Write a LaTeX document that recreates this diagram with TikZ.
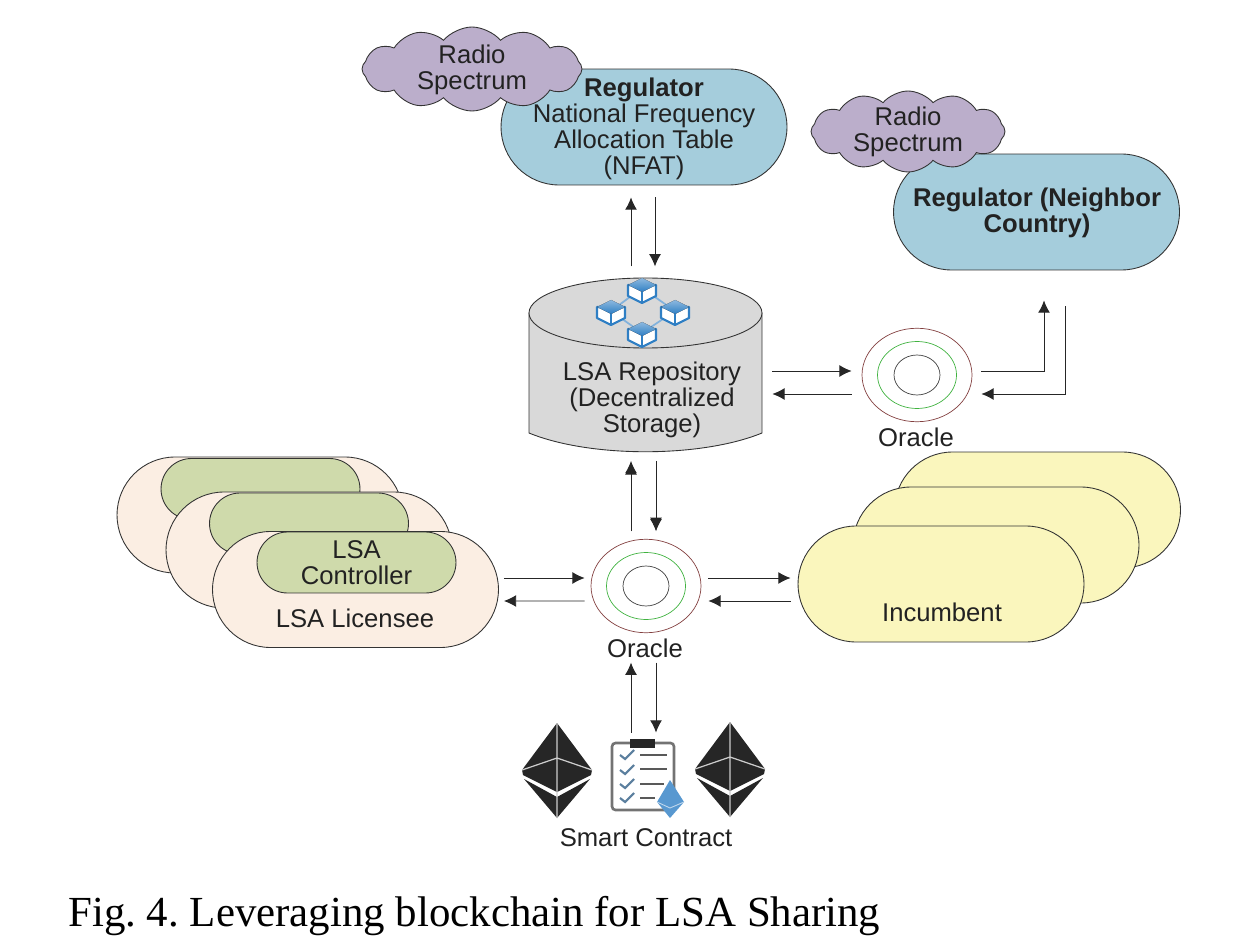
\documentclass[tikz,border=0pt]{standalone}
\usepackage{fontspec}
\setmainfont{Liberation Sans}
\newfontfamily\captionserif{Liberation Serif}
\usetikzlibrary{arrows.meta,shapes.misc,shapes.symbols,shapes.geometric}
\definecolor{regblue}{HTML}{A5CDDC}
\definecolor{cloudlila}{HTML}{BBAECB}
\definecolor{repogray}{HTML}{D9D9D9}
\definecolor{licpeach}{HTML}{FBEEE3}
\definecolor{ctrlgreen}{HTML}{CFDAAB}
\definecolor{incyellow}{HTML}{FAF6BD}
\definecolor{inktext}{HTML}{222222}
\definecolor{ethdark}{HTML}{262626}
\definecolor{cubeblue}{HTML}{2F7FC4}
\tikzset{
  pill/.style={rounded rectangle,draw=black!80,line width=0.5pt,inner sep=0pt,
    minimum width=5.72cm,minimum height=2.32cm,text=inktext,align=center,
    font=\fontsize{14.6}{14.8}\selectfont},
  ctrl/.style={pill,fill=ctrlgreen,minimum width=3.98cm,minimum height=1.22cm},
  radiocloud/.style={cloud,cloud puffs=12,cloud puff arc=100,cloud ignores aspect,draw=black!80,line width=0.5pt,
    fill=cloudlila,inner sep=0pt},
  tlabel/.style={text=inktext,align=center,inner sep=0pt,
    font=\fontsize{14.6}{14.8}\selectfont},
  ring/.style={ellipse,inner sep=0pt,line width=0.4pt},
  link/.style={-{Latex[length=7pt,width=6.8pt]},line width=0.55pt,color=black!85},
  cubepic/.pic={
    \draw[cubeblue,fill=white,line width=1.2pt,line join=round] (-14,-5) -- (-14,6) -- (0,13) -- (14,6) -- (14,-5) -- cycle;
    \draw[cubeblue,line width=0.7pt] (0,2) -- (0,13);
    \fill[top color=cubeblue!55,bottom color=cubeblue] (0,-12) -- (14,-5) -- (0,2) -- (-14,-5) -- cycle;
  },
  ethpic/.pic={
    \fill[ethdark] (0,-47) -- (35,0) -- (34,5) -- (0,22) -- (-34,5) -- (-35,0) -- cycle;
    \fill[ethdark] (-33,9) -- (0,27) -- (33,9) -- (0,48) -- cycle;
    \draw[white!80!black,line width=0.7pt] (0,-47) -- (0,48) (-35,0) -- (0,-12) -- (35,0);
  }
}
\begin{document}
\begin{tikzpicture}[x=0.02cm,y=-0.02cm]
  \useasboundingbox (0,0) rectangle (1250,952);
  % Regulatoren
  \node[pill,fill=regblue] (regulator) at (644,127) {};
  \node[tlabel] (regtext) at (644,129) {\textbf{Regulator}\\National Frequency\\Allocation Table\\(NFAT)};
  \node[pill,fill=regblue] (neighbor) at (1036.5,212) {};
  \node[tlabel] (neighbortext) at (1037,213) {\textbf{Regulator (Neighbor}\\\textbf{Country)}};
  \node[radiocloud,minimum width=4.4cm,minimum height=1.68cm] (cloudA) at (472,69) {};
  \node[tlabel] (cloudAtext) at (472,70) {Radio\\Spectrum};
  \node[radiocloud,minimum width=3.88cm,minimum height=1.62cm] (cloudB) at (908,131.5) {};
  \node[tlabel] (cloudBtext) at (908,132) {Radio\\Spectrum};
  % Repository
  \node[minimum width=4.66cm,minimum height=3.48cm,inner sep=0pt] (repo) at (645.5,365) {};
  \draw[fill=repogray,draw=black!80,line width=0.5pt] (529,313) -- (529,433) .. controls (590,458) and (701,458) .. (762,433) -- (762,313) -- cycle;
  \draw[fill=repogray,draw=black!80,line width=0.5pt] (645.5,313) ellipse [x radius=116.5,y radius=35];
  \node[tlabel] (repotext) at (652,400) {LSA Repository\\(Decentralized\\Storage)};
  \draw[cubeblue!60,line width=1pt] (611,311) -- (642,288) -- (675,311) -- (642,333) -- cycle;
  \foreach \cx/\cy in {642/290,611/312,675/312,642/334}
    \pic at (\cx,\cy) {cubepic};
  % Oracles
  \foreach \orc/\ox/\oy in {oracleA/917/375,oracleB/646/586} {
    \node[ring,draw=red!35!black!75,minimum width=2.2cm,minimum height=1.87cm] (\orc) at (\ox,\oy) {};
    \node[ring,draw=green!60!black!75,minimum width=1.58cm,minimum height=1.34cm] at (\orc) {};
    \node[ring,draw=black!75,minimum width=0.92cm,minimum height=0.8cm] at (\orc) {};
  }
  \node[tlabel] (oracleAtext) at (916,437) {Oracle};
  \node[tlabel] (oracleBtext) at (645,648) {Oracle};
  % Licensee
  \node[pill,fill=licpeach] (licC) at (260,515) {};
  \node[ctrl] (ctrlC) at (260.5,489) {};
  \node[pill,fill=licpeach] (licB) at (309,550) {};
  \node[ctrl] (ctrlB) at (309,523.5) {};
  \node[pill,fill=licpeach] (licA) at (355.5,589.5) {};
  \node[ctrl] (ctrlA) at (356.5,562.5) {LSA\\Controller};
  \node[tlabel] (lictext) at (355,618) {LSA Licensee};
  % Incumbent
  \node[pill,fill=incyellow] (incC) at (1037.5,510) {};
  \node[pill,fill=incyellow] (incB) at (996,545) {};
  \node[pill,fill=incyellow] (incA) at (941,584) {};
  \node[tlabel] (inctext) at (942,612) {Incumbent};
  % Smart Contract
  \foreach \cx/\cy in {557/770,730/769}
    \pic at (\cx,\cy) {ethpic};
  \draw[black!55,line width=1.5pt,rounded corners=2pt] (612,743) rectangle (674,810);
  \fill[ethdark] (630,739) rectangle (655,748);
  \foreach \ly in {755,770,784,798}
    \draw[cubeblue!45!gray,line width=1.2pt] (620,\ly) -- (625,\ly+4) -- (634,\ly-5);
  \foreach \ly/\lx in {755/667,769/667,784/664,798/655}
    \draw[black!65,line width=1.2pt] (640,\ly) -- (\lx,\ly);
  \fill[cubeblue!80] (670,780) -- (684,802) -- (670,818) -- (657,802) -- cycle;
  \draw[white!70!cubeblue,line width=0.5pt] (657,802) -- (670,808) -- (684,802);
  \node[tlabel] (contract) at (646,838) {Smart Contract};
  % Pfeile
  \draw[link] ([shift={(-13,81)}]regulator.south) -- ([shift={(-13,12)}]regulator.south);
  \draw[link] ([shift={(11,12)}]regulator.south) -- ([shift={(11,81)}]regulator.south);
  \draw[link] ([shift={(-14.5,79)}]repo.south) -- ([shift={(-14.5,10)}]repo.south);
  \draw[link] ([shift={(10.5,10)}]repo.south) -- ([shift={(10.5,79)}]repo.south);
  \draw[link] ([shift={(10,6)}]repo.east) -- ([shift={(-10,-4)}]oracleA.west);
  \draw[link] ([shift={(-10,19)}]oracleA.west) -- ([shift={(10,29)}]repo.east);
  \draw[link] ([shift={(9,-4)}]oracleA.east) -| ([shift={(7.5,30)}]neighbor.south);
  \draw[link] ([shift={(28.5,36)}]neighbor.south) |- ([shift={(9,19)}]oracleA.east);
  \draw[link] ([shift={(5,-11.5)}]licA.east) -- ([shift={(-6,-8)}]oracleB.west);
  \draw[link] ([shift={(-6,15)}]oracleB.west) -- ([shift={(5,11.5)}]licA.east);
  \draw[link] ([shift={(7,-8)}]oracleB.east) -- ([shift={(-7,-6)}]incA.west);
  \draw[link] ([shift={(-7,17)}]incA.west) -- ([shift={(7,15)}]oracleB.east);
  \draw[link] ([shift={(-15,-96)}]contract.north) -- ([shift={(-15,-166)}]contract.north);
  \draw[link] ([shift={(10,-166)}]contract.north) -- ([shift={(10,-96)}]contract.north);
  \draw[link] ([shift={(-15,-9)}]oracleB.north) -- ([shift={(-15,-78)}]oracleB.north);
  \draw[link] ([shift={(10,-78)}]oracleB.north) -- ([shift={(10,-9)}]oracleB.north);
  % Bildunterschrift
  \node[anchor=west,inner sep=0pt,font=\captionserif\frenchspacing\fontsize{24.4}{26}\selectfont] (figcaption) at (68,916) {Fig. 4. Leveraging blockchain for LSA Sharing};
\end{tikzpicture}
\end{document}
